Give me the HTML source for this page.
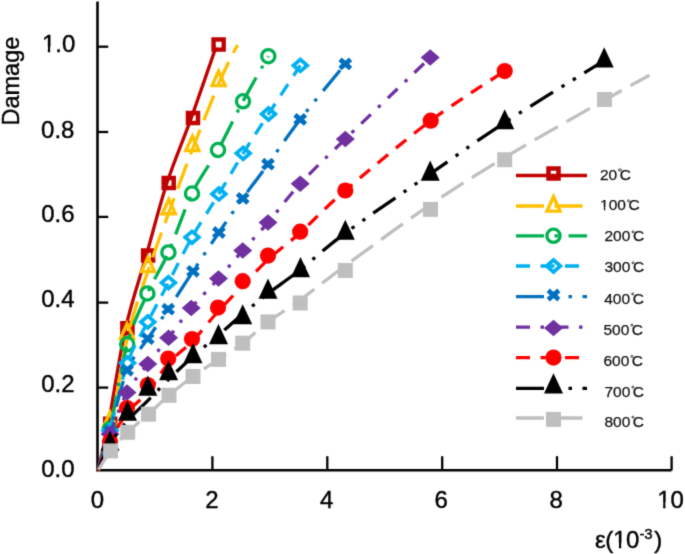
<!DOCTYPE html><html><head><meta charset="utf-8"><style>
html,body{margin:0;padding:0;background:#fff;}body{width:685px;height:554px;position:relative;overflow:hidden;font-family:"Liberation Sans",sans-serif;color:#000;}
.t{position:absolute;white-space:nowrap;line-height:1;left:0;top:0;}
.yl,.xl{font-size:24px;}.t{-webkit-text-stroke:0.4px #000;}.lg{-webkit-text-stroke:0.25px #111;}
.one{display:inline-block;clip-path:polygon(0 0,100% 0,100% 0.6em,0.343em 0.6em,0.343em 100%,0.248em 100%,0.248em 0.6em,0 0.6em);}
.lg{font-size:15.5px;color:#111;}.c{margin-left:2.6px;position:relative;}.c::before{content:"";position:absolute;left:-1.4px;top:2.5px;width:1.4px;height:1.4px;border:0.9px solid #333;border-radius:50%;}
#inner{position:absolute;left:6px;top:6px;width:685px;height:554px;}
#wrap{position:absolute;left:-6px;top:-6px;width:697px;height:566px;filter:url(#soft);background:#fff;}
</style></head><body><svg width="0" height="0" style="position:absolute"><filter id="soft" x="0" y="0" width="100%" height="100%" color-interpolation-filters="sRGB"><feConvolveMatrix order="3" kernelMatrix="0.0192 0.1001 0.0192 0.1001 0.5228 0.1001 0.0192 0.1001 0.0192" edgeMode="duplicate" preserveAlpha="true"/></filter></svg><div id="wrap"><div id="inner">
<svg width="685" height="554" viewBox="0 0 685 554" style="position:absolute;left:0;top:0">
<g stroke="#000" stroke-width="2.6" fill="none">
<path d="M97.5 1.5V470.3H671.6"/>
<path d="M97.5 46.7H108.2" stroke-width="2.3"/>
<path d="M97.5 132.0H108.2" stroke-width="2.3"/>
<path d="M97.5 216.9H108.2" stroke-width="2.3"/>
<path d="M97.5 302.6H108.2" stroke-width="2.3"/>
<path d="M97.5 387.6H108.2" stroke-width="2.3"/>
<path d="M212.4 470.3V456.2" stroke-width="2.3"/>
<path d="M327.3 470.3V456.2" stroke-width="2.3"/>
<path d="M442.2 470.3V456.2" stroke-width="2.3"/>
<path d="M557.0 470.3V456.2" stroke-width="2.3"/>
<path d="M671.6 470.3V456.2" stroke-width="2.3"/>
</g>
<path d="M98.00 470.30 C99.73 462.53 103.80 447.38 108.40 423.70 C113.00 400.02 119.28 356.25 125.60 328.20 C131.92 300.15 139.42 279.58 146.30 255.40 C153.18 231.22 159.42 205.98 166.90 183.10 C174.38 160.22 182.88 141.18 191.20 118.10 C199.52 95.02 212.53 56.85 216.80 44.60" fill="none" stroke="#C00000" stroke-width="3.3" stroke-linejoin="round"/>
<path d="M102.95 416.45h14.5v14.5h-14.5z M107.45 420.95h5.5v5.5h-5.5z" fill="#C00000" fill-rule="evenodd"/>
<path d="M120.15 320.95h14.5v14.5h-14.5z M124.65 325.45h5.5v5.5h-5.5z" fill="#C00000" fill-rule="evenodd"/>
<path d="M140.85 248.15h14.5v14.5h-14.5z M145.35 252.65h5.5v5.5h-5.5z" fill="#C00000" fill-rule="evenodd"/>
<path d="M161.45 175.85h14.5v14.5h-14.5z M165.95 180.35h5.5v5.5h-5.5z" fill="#C00000" fill-rule="evenodd"/>
<path d="M185.75 110.85h14.5v14.5h-14.5z M190.25 115.35h5.5v5.5h-5.5z" fill="#C00000" fill-rule="evenodd"/>
<path d="M211.35 37.35h14.5v14.5h-14.5z M215.85 41.85h5.5v5.5h-5.5z" fill="#C00000" fill-rule="evenodd"/>
<rect x="215.85" y="41.85" width="5.5" height="5.5" fill="#fff"/>
<path d="M98.00 470.30 C100.25 462.18 106.42 444.45 111.50 421.60 C116.58 398.75 122.17 359.05 128.50 333.20 C134.83 307.35 142.53 287.25 149.50 266.50 C156.47 245.75 162.90 228.87 170.30 208.70 C177.70 188.53 185.60 166.87 193.90 145.50 C202.20 124.13 212.83 97.25 220.10 80.50 C227.37 63.75 234.60 50.92 237.50 45.00" fill="none" stroke="#FFC000" stroke-width="3.3" stroke-linejoin="round" stroke-dasharray="26.64 9.99" stroke-dashoffset="36.39"/>
<path d="M110.00 408.20L119.10 428.30L100.90 428.30z M110.00 416.60L114.00 425.00L106.00 425.00z" fill="#FFC000" fill-rule="evenodd"/>
<path d="M127.00 319.80L136.10 339.90L117.90 339.90z M127.00 328.20L131.00 336.60L123.00 336.60z" fill="#FFC000" fill-rule="evenodd"/>
<path d="M148.00 253.10L157.10 273.20L138.90 273.20z M148.00 261.50L152.00 269.90L144.00 269.90z" fill="#FFC000" fill-rule="evenodd"/>
<path d="M168.80 195.30L177.90 215.40L159.70 215.40z M168.80 203.70L172.80 212.10L164.80 212.10z" fill="#FFC000" fill-rule="evenodd"/>
<path d="M192.40 132.10L201.50 152.20L183.30 152.20z M192.40 140.50L196.40 148.90L188.40 148.90z" fill="#FFC000" fill-rule="evenodd"/>
<path d="M218.60 67.10L227.70 87.20L209.50 87.20z M218.60 75.50L222.60 83.90L214.60 83.90z" fill="#FFC000" fill-rule="evenodd"/>
<path d="M98.00 470.30 C100.00 463.42 105.13 450.00 110.00 429.00 C114.87 408.00 120.97 366.88 127.20 344.30 C133.43 321.72 140.53 308.82 147.40 293.50 C154.27 278.18 160.97 269.07 168.40 252.40 C175.83 235.73 183.73 210.57 192.00 193.50 C200.27 176.43 209.50 165.37 218.00 150.00 C226.50 134.63 234.62 116.93 243.00 101.30 C251.38 85.67 264.08 63.72 268.30 56.20" fill="none" stroke="#00B050" stroke-width="3.3" stroke-linejoin="round" stroke-dasharray="26.64 9.99 3.33 9.99" stroke-dashoffset="49.74"/>
<circle cx="110.00" cy="429.00" r="6.6" fill="none" stroke="#00B050" stroke-width="3.3"/>
<circle cx="127.20" cy="344.30" r="6.6" fill="none" stroke="#00B050" stroke-width="3.3"/>
<circle cx="147.40" cy="293.50" r="6.6" fill="none" stroke="#00B050" stroke-width="3.3"/>
<circle cx="168.40" cy="252.40" r="6.6" fill="none" stroke="#00B050" stroke-width="3.3"/>
<circle cx="192.00" cy="193.50" r="6.6" fill="none" stroke="#00B050" stroke-width="3.3"/>
<circle cx="218.00" cy="150.00" r="6.6" fill="none" stroke="#00B050" stroke-width="3.3"/>
<circle cx="243.00" cy="101.30" r="6.6" fill="none" stroke="#00B050" stroke-width="3.3"/>
<circle cx="268.30" cy="56.20" r="6.6" fill="none" stroke="#00B050" stroke-width="3.3"/>
<path d="M98.00 470.30 C100.00 463.67 105.08 448.38 110.00 430.50 C114.92 412.62 121.20 381.10 127.50 363.00 C133.80 344.90 140.98 335.28 147.80 321.90 C154.62 308.52 161.03 296.80 168.40 282.70 C175.77 268.60 183.58 252.10 192.00 237.30 C200.42 222.50 210.37 207.90 218.90 193.90 C227.43 179.90 234.93 166.62 243.20 153.30 C251.47 139.98 258.98 128.65 268.50 114.00 C278.02 99.35 295.00 73.50 300.30 65.40" fill="none" stroke="#00B0F0" stroke-width="3.3" stroke-linejoin="round" stroke-dasharray="13.32 9.99" stroke-dashoffset="22.78"/>
<path d="M110.00 422.10L119.70 430.50L110.00 438.90L100.30 430.50z M110.00 427.00L114.00 430.50L110.00 434.00L106.00 430.50z" fill="#00B0F0" fill-rule="evenodd"/>
<path d="M127.50 354.60L137.20 363.00L127.50 371.40L117.80 363.00z M127.50 359.50L131.50 363.00L127.50 366.50L123.50 363.00z" fill="#00B0F0" fill-rule="evenodd"/>
<path d="M147.80 313.50L157.50 321.90L147.80 330.30L138.10 321.90z M147.80 318.40L151.80 321.90L147.80 325.40L143.80 321.90z" fill="#00B0F0" fill-rule="evenodd"/>
<path d="M168.40 274.30L178.10 282.70L168.40 291.10L158.70 282.70z M168.40 279.20L172.40 282.70L168.40 286.20L164.40 282.70z" fill="#00B0F0" fill-rule="evenodd"/>
<path d="M192.00 228.90L201.70 237.30L192.00 245.70L182.30 237.30z M192.00 233.80L196.00 237.30L192.00 240.80L188.00 237.30z" fill="#00B0F0" fill-rule="evenodd"/>
<path d="M218.90 185.50L228.60 193.90L218.90 202.30L209.20 193.90z M218.90 190.40L222.90 193.90L218.90 197.40L214.90 193.90z" fill="#00B0F0" fill-rule="evenodd"/>
<path d="M243.20 144.90L252.90 153.30L243.20 161.70L233.50 153.30z M243.20 149.80L247.20 153.30L243.20 156.80L239.20 153.30z" fill="#00B0F0" fill-rule="evenodd"/>
<path d="M268.50 105.60L278.20 114.00L268.50 122.40L258.80 114.00z M268.50 110.50L272.50 114.00L268.50 117.50L264.50 114.00z" fill="#00B0F0" fill-rule="evenodd"/>
<path d="M300.30 57.00L310.00 65.40L300.30 73.80L290.60 65.40z M300.30 61.90L304.30 65.40L300.30 68.90L296.30 65.40z" fill="#00B0F0" fill-rule="evenodd"/>
<path d="M98.00 470.30 C100.00 463.75 105.15 447.67 110.00 431.00 C114.85 414.33 120.80 385.68 127.10 370.30 C133.40 354.92 140.95 348.88 147.80 338.70 C154.65 328.52 160.67 320.43 168.20 309.20 C175.73 297.97 184.55 284.08 193.00 271.30 C201.45 258.52 210.62 244.65 218.90 232.50 C227.18 220.35 234.52 209.78 242.70 198.40 C250.88 187.02 258.42 177.37 268.00 164.20 C277.58 151.03 287.32 136.12 300.20 119.40 C313.08 102.68 337.78 73.15 345.30 63.90" fill="none" stroke="#0070C0" stroke-width="3.3" stroke-linejoin="round" stroke-dasharray="26.64 9.99 3.33 9.99 3.33 9.99" stroke-dashoffset="60.43"/>
<path d="M106.50 428.00L113.50 434.00M106.50 434.00L113.50 428.00" stroke="#0070C0" stroke-width="4.8" stroke-linecap="square"/>
<path d="M123.60 367.30L130.60 373.30M123.60 373.30L130.60 367.30" stroke="#0070C0" stroke-width="4.8" stroke-linecap="square"/>
<path d="M144.30 335.70L151.30 341.70M144.30 341.70L151.30 335.70" stroke="#0070C0" stroke-width="4.8" stroke-linecap="square"/>
<path d="M164.70 306.20L171.70 312.20M164.70 312.20L171.70 306.20" stroke="#0070C0" stroke-width="4.8" stroke-linecap="square"/>
<path d="M189.50 268.30L196.50 274.30M189.50 274.30L196.50 268.30" stroke="#0070C0" stroke-width="4.8" stroke-linecap="square"/>
<path d="M215.40 229.50L222.40 235.50M215.40 235.50L222.40 229.50" stroke="#0070C0" stroke-width="4.8" stroke-linecap="square"/>
<path d="M239.20 195.40L246.20 201.40M239.20 201.40L246.20 195.40" stroke="#0070C0" stroke-width="4.8" stroke-linecap="square"/>
<path d="M264.50 161.20L271.50 167.20M264.50 167.20L271.50 161.20" stroke="#0070C0" stroke-width="4.8" stroke-linecap="square"/>
<path d="M296.70 116.40L303.70 122.40M296.70 122.40L303.70 116.40" stroke="#0070C0" stroke-width="4.8" stroke-linecap="square"/>
<path d="M341.80 60.90L348.80 66.90M341.80 66.90L348.80 60.90" stroke="#0070C0" stroke-width="4.8" stroke-linecap="square"/>
<path d="M98.00 470.30 C100.00 464.25 105.17 446.95 110.00 434.00 C114.83 421.05 120.70 404.28 127.00 392.60 C133.30 380.92 140.87 373.03 147.80 363.90 C154.73 354.77 161.37 347.12 168.60 337.80 C175.83 328.48 182.88 317.88 191.20 308.00 C199.52 298.12 209.92 288.08 218.50 278.50 C227.08 268.92 234.45 259.82 242.70 250.50 C250.95 241.18 258.42 233.72 268.00 222.60 C277.58 211.48 287.32 197.73 300.20 183.80 C313.08 169.87 323.63 160.03 345.30 139.00 C366.97 117.97 416.05 71.17 430.20 57.60" fill="none" stroke="#7030A0" stroke-width="3.3" stroke-linejoin="round" stroke-dasharray="13.32 9.99 3.33 9.99" stroke-dashoffset="35.63"/>
<path d="M110.00 425.75L119.50 434.00L110.00 442.25L100.50 434.00z" fill="#7030A0"/>
<path d="M127.00 384.35L136.50 392.60L127.00 400.85L117.50 392.60z" fill="#7030A0"/>
<path d="M147.80 355.65L157.30 363.90L147.80 372.15L138.30 363.90z" fill="#7030A0"/>
<path d="M168.60 329.55L178.10 337.80L168.60 346.05L159.10 337.80z" fill="#7030A0"/>
<path d="M191.20 299.75L200.70 308.00L191.20 316.25L181.70 308.00z" fill="#7030A0"/>
<path d="M218.50 270.25L228.00 278.50L218.50 286.75L209.00 278.50z" fill="#7030A0"/>
<path d="M242.70 242.25L252.20 250.50L242.70 258.75L233.20 250.50z" fill="#7030A0"/>
<path d="M268.00 214.35L277.50 222.60L268.00 230.85L258.50 222.60z" fill="#7030A0"/>
<path d="M300.20 175.55L309.70 183.80L300.20 192.05L290.70 183.80z" fill="#7030A0"/>
<path d="M345.30 130.75L354.80 139.00L345.30 147.25L335.80 139.00z" fill="#7030A0"/>
<path d="M430.20 49.35L439.70 57.60L430.20 65.85L420.70 57.60z" fill="#7030A0"/>
<path d="M98.00 470.30 C100.00 465.50 105.17 451.05 110.00 441.50 C114.83 431.95 120.70 421.25 127.00 413.00 C133.30 404.75 140.93 400.25 147.80 392.00 C154.67 383.75 160.83 371.92 168.20 363.50 C175.57 355.08 183.70 350.15 192.00 341.50 C200.30 332.85 209.55 320.90 218.00 311.60 C226.45 302.30 234.37 294.37 242.70 285.70 C251.03 277.03 258.42 268.43 268.00 259.60 C277.58 250.77 287.32 244.22 300.20 232.70 C313.08 221.18 323.55 209.17 345.30 190.50 C367.05 171.83 404.13 140.60 430.70 120.70 C457.27 100.80 492.37 79.37 504.70 71.10" fill="none" stroke="#FF0000" stroke-width="3.3" stroke-linejoin="round" stroke-dasharray="13.32 9.99" stroke-dashoffset="23.26"/>
<circle cx="110.00" cy="441.50" r="8.1" fill="#FF0000"/>
<circle cx="127.00" cy="408.00" r="8.1" fill="#FF0000"/>
<circle cx="147.80" cy="385.00" r="8.1" fill="#FF0000"/>
<circle cx="168.20" cy="358.50" r="8.1" fill="#FF0000"/>
<circle cx="192.00" cy="339.00" r="8.1" fill="#FF0000"/>
<circle cx="218.00" cy="307.60" r="8.1" fill="#FF0000"/>
<circle cx="242.70" cy="281.20" r="8.1" fill="#FF0000"/>
<circle cx="268.00" cy="255.60" r="8.1" fill="#FF0000"/>
<circle cx="300.20" cy="231.70" r="8.1" fill="#FF0000"/>
<circle cx="345.30" cy="190.50" r="8.1" fill="#FF0000"/>
<circle cx="430.70" cy="120.70" r="8.1" fill="#FF0000"/>
<circle cx="504.70" cy="71.10" r="8.1" fill="#FF0000"/>
<path d="M98.00 470.30 C100.00 465.92 105.08 452.27 110.00 444.00 C114.92 435.73 121.20 427.93 127.50 420.70 C133.80 413.47 140.95 407.48 147.80 400.60 C154.65 393.72 161.07 386.77 168.60 379.40 C176.13 372.03 184.68 363.78 193.00 356.40 C201.32 349.02 210.22 342.15 218.50 335.10 C226.78 328.05 234.45 321.03 242.70 314.10 C250.95 307.17 258.37 300.93 268.00 293.50 C277.63 286.07 287.62 279.57 300.50 269.50 C313.38 259.43 323.68 249.03 345.30 233.10 C366.92 217.17 403.63 192.32 430.20 173.90 C456.77 155.48 475.70 141.47 504.70 122.60 C533.70 103.73 587.62 71.02 604.20 60.70" fill="none" stroke="#000000" stroke-width="3.3" stroke-linejoin="round" stroke-dasharray="26.64 9.99 3.33 9.99 3.33 9.99" stroke-dashoffset="62.37"/>
<path d="M110.00 430.53L119.50 450.73L100.50 450.73z" fill="#000000"/>
<path d="M127.50 400.53L137.00 420.73L118.00 420.73z" fill="#000000"/>
<path d="M147.80 375.43L157.30 395.63L138.30 395.63z" fill="#000000"/>
<path d="M168.60 360.13L178.10 380.33L159.10 380.33z" fill="#000000"/>
<path d="M193.00 343.03L202.50 363.23L183.50 363.23z" fill="#000000"/>
<path d="M218.50 324.03L228.00 344.23L209.00 344.23z" fill="#000000"/>
<path d="M242.70 304.13L252.20 324.33L233.20 324.33z" fill="#000000"/>
<path d="M268.00 278.43L277.50 298.63L258.50 298.63z" fill="#000000"/>
<path d="M300.50 257.03L310.00 277.23L291.00 277.23z" fill="#000000"/>
<path d="M345.30 219.63L354.80 239.83L335.80 239.83z" fill="#000000"/>
<path d="M430.20 160.43L439.70 180.63L420.70 180.63z" fill="#000000"/>
<path d="M504.70 109.13L514.20 129.33L495.20 129.33z" fill="#000000"/>
<path d="M604.20 47.23L613.70 67.43L594.70 67.43z" fill="#000000"/>
<path d="M98.00 470.30 C100.10 467.07 105.65 457.23 110.60 450.90 C115.55 444.57 121.38 438.42 127.70 432.30 C134.02 426.18 141.62 420.37 148.50 414.20 C155.38 408.03 161.58 401.58 169.00 395.30 C176.42 389.02 184.75 382.48 193.00 376.50 C201.25 370.52 210.22 364.95 218.50 359.40 C226.78 353.85 234.45 349.45 242.70 343.20 C250.95 336.95 258.42 329.10 268.00 321.90 C277.58 314.70 287.32 309.37 300.20 300.00 C313.08 290.63 323.58 281.60 345.30 265.70 C367.02 249.80 403.93 222.63 430.50 204.60 C457.07 186.57 475.70 174.92 504.70 157.50 C533.70 140.08 580.37 113.80 604.50 100.10 C628.63 86.40 642.00 79.43 649.50 75.30" fill="none" stroke="#BFBFBF" stroke-width="3.3" stroke-linejoin="round" stroke-dasharray="26.64 9.99" stroke-dashoffset="35.61"/>
<rect x="103.10" y="443.40" width="15.0" height="15.0" fill="#BFBFBF"/>
<rect x="120.20" y="424.80" width="15.0" height="15.0" fill="#BFBFBF"/>
<rect x="141.00" y="406.70" width="15.0" height="15.0" fill="#BFBFBF"/>
<rect x="161.50" y="387.80" width="15.0" height="15.0" fill="#BFBFBF"/>
<rect x="185.50" y="369.00" width="15.0" height="15.0" fill="#BFBFBF"/>
<rect x="211.00" y="351.90" width="15.0" height="15.0" fill="#BFBFBF"/>
<rect x="235.20" y="335.70" width="15.0" height="15.0" fill="#BFBFBF"/>
<rect x="260.50" y="314.40" width="15.0" height="15.0" fill="#BFBFBF"/>
<rect x="292.70" y="295.50" width="15.0" height="15.0" fill="#BFBFBF"/>
<rect x="337.80" y="263.00" width="15.0" height="15.0" fill="#BFBFBF"/>
<rect x="423.00" y="201.90" width="15.0" height="15.0" fill="#BFBFBF"/>
<rect x="497.20" y="152.20" width="15.0" height="15.0" fill="#BFBFBF"/>
<rect x="597.00" y="92.00" width="15.0" height="15.0" fill="#BFBFBF"/>
<path d="M516 175.5H587" fill="none" stroke="#C00000" stroke-width="3.3"/>
<path d="M546.25 166.35h14.5v14.5h-14.5z M550.75 170.85h5.5v5.5h-5.5z" fill="#C00000" fill-rule="evenodd"/>
<path d="M516 206.0H587" fill="none" stroke="#FFC000" stroke-width="3.3" stroke-dasharray="28 10.5"/>
<path d="M553.50 192.60L562.60 212.70L544.40 212.70z M553.50 201.00L557.50 209.40L549.50 209.40z" fill="#FFC000" fill-rule="evenodd"/>
<path d="M516 235.8H587" fill="none" stroke="#00B050" stroke-width="3.3" stroke-dasharray="28 10.5 3.5 10.5"/>
<circle cx="553.50" cy="235.80" r="6.6" fill="none" stroke="#00B050" stroke-width="3.3"/>
<path d="M516 266.0H587" fill="none" stroke="#00B0F0" stroke-width="3.3" stroke-dasharray="14 10.5"/>
<path d="M553.50 257.60L563.20 266.00L553.50 274.40L543.80 266.00z M553.50 262.50L557.50 266.00L553.50 269.50L549.50 266.00z" fill="#00B0F0" fill-rule="evenodd"/>
<path d="M516 296.6H587" fill="none" stroke="#0070C0" stroke-width="3.3" stroke-dasharray="28 10.5 3.5 10.5 3.5 10.5"/>
<path d="M550.00 292.00L557.00 298.00M550.00 298.00L557.00 292.00" stroke="#0070C0" stroke-width="4.8" stroke-linecap="square"/>
<path d="M516 327.1H587" fill="none" stroke="#7030A0" stroke-width="3.3" stroke-dasharray="14 10.5 3.5 10.5"/>
<path d="M553.50 319.75L563.00 328.00L553.50 336.25L544.00 328.00z" fill="#7030A0"/>
<path d="M516 357.6H587" fill="none" stroke="#FF0000" stroke-width="3.3" stroke-dasharray="14 10.5"/>
<circle cx="553.50" cy="357.60" r="8.1" fill="#FF0000"/>
<path d="M516 388.4H587" fill="none" stroke="#000000" stroke-width="3.3" stroke-dasharray="28 10.5 3.5 10.5 3.5 10.5"/>
<path d="M553.50 373.33L563.00 393.53L544.00 393.53z" fill="#000000"/>
<path d="M516 418.0H587" fill="none" stroke="#BFBFBF" stroke-width="3.3" stroke-dasharray="28 10.5"/>
<rect x="546.00" y="411.90" width="15.0" height="15.0" fill="#BFBFBF"/>
</svg>
<div id="y0" class="t yl" style="transform-box:border-box;translate:41.90px 32.10px"><span class="one">1</span>.0</div>
<div id="y1" class="t yl" style="transform-box:border-box;translate:41.10px 117.70px">0.8</div>
<div id="y2" class="t yl" style="transform-box:border-box;translate:41.20px 202.10px">0.6</div>
<div id="y3" class="t yl" style="transform-box:border-box;translate:41.20px 287.10px">0.4</div>
<div id="y4" class="t yl" style="transform-box:border-box;translate:41.20px 372.10px">0.2</div>
<div id="y5" class="t yl" style="transform-box:border-box;translate:41.20px 456.90px">0.0</div>
<div id="x0" class="t xl" style="transform-box:border-box;translate:90.80px 487.60px">0</div>
<div id="x1" class="t xl" style="transform-box:border-box;translate:205.30px 488.00px">2</div>
<div id="x2" class="t xl" style="transform-box:border-box;translate:320.10px 488.00px">4</div>
<div id="x3" class="t xl" style="transform-box:border-box;translate:434.60px 488.00px">6</div>
<div id="x4" class="t xl" style="transform-box:border-box;translate:549.50px 488.00px">8</div>
<div id="x5" class="t xl" style="transform-box:border-box;translate:657.20px 487.70px"><span class="one">1</span>0</div>
<div id="l0" class="t lg" style="transform-box:border-box;translate:599.90px 166.50px">20<span class="c">C</span></div>
<div id="l1" class="t lg" style="transform-box:border-box;translate:600.00px 197.30px"><span class="one">1</span>00<span class="c">C</span></div>
<div id="l2" class="t lg" style="transform-box:border-box;translate:604.50px 228.40px">200<span class="c">C</span></div>
<div id="l3" class="t lg" style="transform-box:border-box;translate:604.50px 259.30px">300<span class="c">C</span></div>
<div id="l4" class="t lg" style="transform-box:border-box;translate:604.20px 290.50px">400<span class="c">C</span></div>
<div id="l5" class="t lg" style="transform-box:border-box;translate:603.40px 321.60px">500<span class="c">C</span></div>
<div id="l6" class="t lg" style="transform-box:border-box;translate:603.40px 352.90px">600<span class="c">C</span></div>
<div id="l7" class="t lg" style="transform-box:border-box;translate:604.40px 383.60px">700<span class="c">C</span></div>
<div id="l8" class="t lg" style="transform-box:border-box;translate:604.40px 413.70px">800<span class="c">C</span></div>
<div id="dmg" class="t" style="font-size:23.5px;transform:rotate(-90deg);transform-origin:0 0;transform-box:border-box;translate:0.20px 125.50px">Damage</div>
<div id="eps" class="t" style="font-size:24px;letter-spacing:-0.3px;transform-box:border-box;translate:594.90px 528.40px">ε(<span class="one">1</span>0<span style="font-size:15px;position:relative;top:-9px;margin-left:0.5px">-3</span><span style="margin-left:1.8px">)</span></div>
</div></div></body></html>
